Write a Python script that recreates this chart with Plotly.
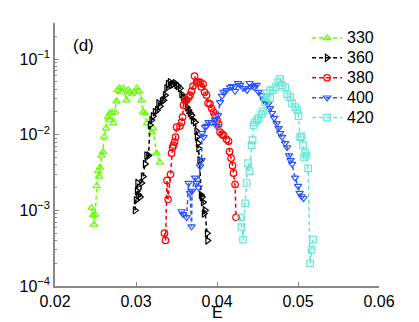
import plotly.graph_objects as go

# data: E values and probability for each series
e330 = [0.02451, 0.02469, 0.02482, 0.02494, 0.02513, 0.02531, 0.02543, 0.02556, 0.02574, 0.02593,
        0.02605, 0.0263, 0.02655, 0.02667, 0.02679, 0.02704, 0.02722, 0.02741, 0.0276, 0.02772,
        0.02797, 0.02821, 0.02846, 0.02883, 0.02902, 0.02926, 0.02951, 0.02976, 0.03007, 0.03037,
        0.03068, 0.03087, 0.03111, 0.03136, 0.03192, 0.0321, 0.03254, 0.03297]
p330 = [0.00108, 0.00086, 0.00065, 0.00088, 0.0021, 0.0033, 0.0028, 0.0037, 0.0053, 0.0059,
        0.0093, 0.0122, 0.0171, 0.0156, 0.0193, 0.0199, 0.0142, 0.0199, 0.0277, 0.0388,
        0.0413, 0.0366, 0.0413, 0.0286, 0.0388, 0.0366, 0.0344, 0.0366, 0.0413, 0.0377,
        0.0286, 0.0199, 0.0193, 0.0142, 0.0108, 0.0122, 0.0057, 0.0043]

e360 = [0.02988, 0.03, 0.03013, 0.03019, 0.03031, 0.0305, 0.03068, 0.03087, 0.03112, 0.0313,
        0.03155, 0.03173, 0.03192, 0.0321, 0.03235, 0.0326, 0.03278, 0.03297, 0.03322, 0.0334,
        0.03359, 0.03377, 0.03396, 0.0342, 0.03439, 0.03457, 0.03482, 0.03501, 0.03519, 0.03544,
        0.03562, 0.03581, 0.03606, 0.0363, 0.03649, 0.03667, 0.03686, 0.03704, 0.03729, 0.03748,
        0.03754, 0.03766, 0.03772, 0.03785, 0.03803, 0.03815, 0.03828, 0.0384, 0.03853, 0.03877, 0.03883]
p360 = [0.0010, 0.00136, 0.0018, 0.0023, 0.0016, 0.0015, 0.0023, 0.0028, 0.0041, 0.0053,
        0.0053, 0.0134, 0.0156, 0.0176, 0.0199, 0.0211, 0.0261, 0.0238, 0.0278, 0.0286,
        0.0333, 0.0413, 0.0467, 0.0496, 0.0453, 0.0467, 0.0481, 0.0453, 0.0439, 0.0413,
        0.0344, 0.0314, 0.0286, 0.0231, 0.0211, 0.0193, 0.0181, 0.0156, 0.0146, 0.0111,
        0.0093, 0.0077, 0.0066, 0.0046, 0.0016, 0.0015, 0.00128, 0.00091, 0.0010, 0.0005, 0.0004]

e380 = [0.03352, 0.03365, 0.03383, 0.03396, 0.03426, 0.03439, 0.03451, 0.03463, 0.03476, 0.03488,
        0.03501, 0.03544, 0.03562, 0.03575, 0.03587, 0.03606, 0.03624, 0.03649, 0.03667, 0.03686,
        0.03704, 0.03723, 0.03748, 0.03766, 0.03791, 0.03809, 0.03828, 0.03846, 0.03871, 0.0389,
        0.03914, 0.03933, 0.03957, 0.03976, 0.04001, 0.04019, 0.04038, 0.04062, 0.04081, 0.04118,
        0.04143, 0.04155, 0.04174, 0.04192, 0.04204, 0.04223, 0.04235]
p380 = [0.0005, 0.0004, 0.00249, 0.0014, 0.003, 0.0057, 0.0068, 0.0073, 0.008, 0.0093,
        0.0126, 0.013, 0.0146, 0.0171, 0.0246, 0.0286, 0.0286, 0.0314, 0.0333, 0.0377,
        0.0439, 0.0596, 0.0481, 0.0496, 0.0496, 0.0426, 0.0467, 0.0366, 0.0333, 0.0261,
        0.0254, 0.0224, 0.0199, 0.0181, 0.0156, 0.0138, 0.0108, 0.0102, 0.0098, 0.0087,
        0.0082, 0.006, 0.0049, 0.0039, 0.0031, 0.0022, 0.00081]

e400 = [0.03562, 0.03581, 0.03624, 0.03649, 0.03667, 0.03686, 0.03692, 0.03729, 0.03748, 0.03772,
        0.03791, 0.03809, 0.03815, 0.03834, 0.03853, 0.03871, 0.03896, 0.03933, 0.03976, 0.03995,
        0.04013, 0.04038, 0.04062, 0.04081, 0.04118, 0.04161, 0.04186, 0.04223, 0.0426, 0.04285,
        0.04322, 0.04347, 0.04371, 0.04402, 0.04433, 0.04458, 0.04489, 0.04513, 0.0455, 0.04575,
        0.04606, 0.04637, 0.04655, 0.0468, 0.04705, 0.04736, 0.0476, 0.04779, 0.04803, 0.04841,
        0.04865, 0.0489, 0.04908, 0.04927, 0.04964, 0.05001, 0.0502, 0.05044, 0.05069]
p400 = [0.00097, 0.00089, 0.00081, 0.0023, 0.0017, 0.00061, 0.0018, 0.0027, 0.0023, 0.002,
        0.0038, 0.0046, 0.0105, 0.0093, 0.0126, 0.013, 0.0146, 0.0146, 0.0156, 0.013,
        0.0181, 0.0269, 0.0324, 0.0366, 0.0388, 0.0426, 0.0439, 0.0377, 0.0481, 0.0453,
        0.0413, 0.0413, 0.0388, 0.0481, 0.0439, 0.0426, 0.0453, 0.0366, 0.0333, 0.0286,
        0.0269, 0.0261, 0.0224, 0.0193, 0.0166, 0.0142, 0.0122, 0.0105, 0.0093, 0.0077,
        0.0068, 0.0053, 0.0046, 0.0041, 0.0027, 0.0021, 0.0017, 0.00153, 0.00144]

e420 = [0.04291, 0.04303, 0.04322, 0.04347, 0.04365, 0.04384, 0.04402, 0.04427, 0.04439, 0.04451,
        0.0447, 0.04495, 0.04513, 0.0455, 0.04569, 0.04594, 0.04612, 0.04618, 0.04655, 0.04656,
        0.04692, 0.04723, 0.04754, 0.04779, 0.04803, 0.04841, 0.04865, 0.04902, 0.04927, 0.04964,
        0.04989, 0.05007, 0.05026, 0.05044, 0.05063, 0.05075, 0.05088, 0.05106, 0.05125, 0.05149,
        0.05168, 0.05186]
p420 = [0.00081, 0.0006, 0.00041, 0.00124, 0.0023, 0.0042, 0.0033, 0.0073, 0.0085, 0.0134,
        0.0146, 0.0156, 0.0166, 0.0187, 0.0205, 0.0269, 0.0314, 0.0355, 0.0304, 0.0388,
        0.0388, 0.0426, 0.0496, 0.0543, 0.0453, 0.0426, 0.0344, 0.0314, 0.0261, 0.0231,
        0.0211, 0.0176, 0.0093, 0.0095, 0.0073, 0.005, 0.0057, 0.0053, 0.0036, 0.0002,
        0.0003, 0.00041]

names = ['330', '360', '380', '400', '420']
colors = ['#66ff00', '#000000', '#ff0000', '#2b55ff', '#66e8d2']
symbols = ['triangle-up-open', 'triangle-right-open', 'circle-open', 'triangle-down-open', 'square-open']

ytick_vals = [1e-4, 1e-3, 1e-2, 1e-1]
ytick_text = ['10<sup>−4</sup>', '10<sup>−3</sup>', '10<sup>−2</sup>', '10<sup>−1</sup>']
xtick_vals = [0.02, 0.03, 0.04, 0.05, 0.06]

fig = go.Figure()
for e, p, n, c, s in zip([e330, e360, e380, e400, e420], [p330, p360, p380, p400, p420],
                         names, colors, symbols):
    # legend font is kept small so rows sit close; the span makes the text itself bigger
    fig.add_trace(go.Scatter(x=e, y=p, mode='lines+markers',
                             name='<span style="font-size:16px">' + n + '</span>',
                             line=dict(color=c, width=1.5, dash='4px,3px'),
                             marker=dict(symbol=s, size=6.5, color=c, line=dict(width=1.2, color=c))))

# minor tick positions on the log axis
minor_vals = [k * 10.0 ** d for d in range(-4, 0) for k in range(2, 10)]

# page body has an 8px margin, so the figure is 8px smaller than the window
fig.update_layout(
    width=411, height=314,
    margin=dict(l=47, r=40, t=15, b=36, autoexpand=False),
    plot_bgcolor='white', paper_bgcolor='white',
    font=dict(family='Liberation Sans, Arial', size=16, color='black'),
    showlegend=True,
    legend=dict(x=0.778, y=1.0, xanchor='left', yanchor='top', bgcolor='rgba(0,0,0,0)',
                font=dict(size=13), itemwidth=30, tracegroupgap=0),
)
fig.update_xaxes(range=[0.02, 0.06], tickvals=xtick_vals, ticktext=['0.02', '0.03', '0.04', '0.05', '0.06'],
                 ticks='inside', ticklen=4, tickcolor='#888', showline=True, linecolor='#888', linewidth=1.5,
                 showgrid=False, zeroline=False, mirror=False, automargin=False)
fig.update_yaxes(type='log', range=[-4, -0.523], tickvals=ytick_vals, ticktext=ytick_text,
                 ticks='inside', ticklen=4, tickcolor='#888', showline=True, linecolor='#888', linewidth=1.5,
                 showgrid=False, zeroline=False, automargin=False,
                 minor=dict(tickvals=minor_vals, ticks='inside', ticklen=2, tickcolor='#888', showgrid=False))
fig.add_annotation(text='(d)', xref='paper', yref='paper', x=0.05, y=0.915, xanchor='left', yanchor='middle',
                   showarrow=False, font=dict(size=17))
fig.add_annotation(text='E', xref='paper', yref='paper', x=0.5, y=-0.061, xanchor='center', yanchor='top',
                   showarrow=False, font=dict(size=16))

fig.write_html("out.html")
